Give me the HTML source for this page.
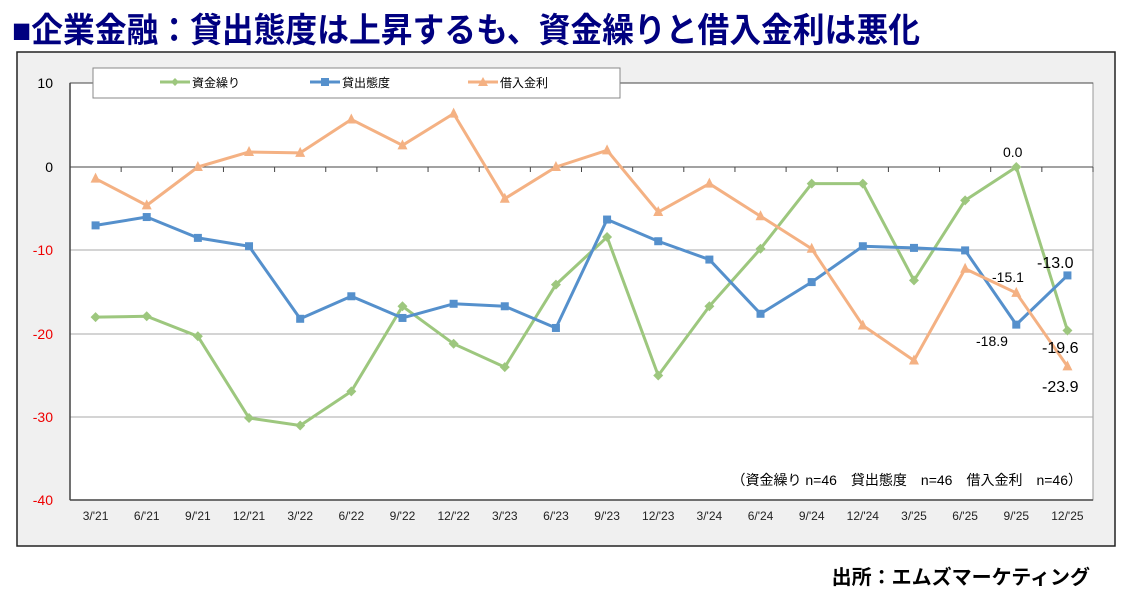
<!DOCTYPE html>
<html><head><meta charset="utf-8"><style>
body{margin:0;background:#fff;width:1141px;height:607px;overflow:hidden;font-family:"Liberation Sans","Noto Sans CJK JP",sans-serif;}
</style></head><body>
<svg width="1141" height="607" style="position:absolute;left:0;top:0" font-family="Liberation Sans, Noto Sans CJK JP, sans-serif">
<text x="12" y="42" font-size="34" font-weight="bold" fill="#000080" textLength="908" lengthAdjust="spacingAndGlyphs">■企業金融：貸出態度は上昇するも、資金繰りと借入金利は悪化</text>
<rect x="17" y="52" width="1098" height="494" fill="#f0f0f0" stroke="#222" stroke-width="1.5"/>
<rect x="70" y="83" width="1023" height="417" fill="#fff" stroke="#999" stroke-width="1"/>
<g stroke="#aaa" stroke-width="1">
<line x1="70" y1="250" x2="1093" y2="250"/><line x1="70" y1="334" x2="1093" y2="334"/><line x1="70" y1="417" x2="1093" y2="417"/>
</g>
<line x1="70" y1="83" x2="1093" y2="83" stroke="#444"/>
<line x1="70" y1="167" x2="1093" y2="167" stroke="#444"/>
<line x1="70" y1="83" x2="70" y2="500" stroke="#444" stroke-width="1.5"/>
<line x1="70" y1="500" x2="1093" y2="500" stroke="#444" stroke-width="1.5"/>
<g id="ticks" stroke="#444"></g>
<g font-size="14" text-anchor="end">
<text x="53" y="88" fill="#000">10</text><text x="53" y="172" fill="#000">0</text>
<text x="53" y="255" fill="#e00">-10</text><text x="53" y="339" fill="#e00">-20</text>
<text x="53" y="422" fill="#e00">-30</text><text x="53" y="505" fill="#e00">-40</text>
</g>
<g id="xl" font-size="12" text-anchor="middle" fill="#222"></g>
<rect x="93" y="68" width="527" height="30" fill="#fff" stroke="#888"/>
<g font-size="12" fill="#000">
<line x1="160" y1="82" x2="190" y2="82" stroke="#9dc77e" stroke-width="3"/><path d="M175 78 L179 82 L175 86 L171 82Z" fill="#9dc77e"/><text x="192" y="87">資金繰り</text>
<line x1="310" y1="82" x2="340" y2="82" stroke="#5590cc" stroke-width="3"/><rect x="321" y="78" width="8" height="8" fill="#5590cc"/><text x="342" y="87">貸出態度</text>
<line x1="468" y1="82" x2="498" y2="82" stroke="#f4b183" stroke-width="3"/><path d="M483 77 L488 86 L478 86Z" fill="#f4b183"/><text x="500" y="87">借入金利</text>
</g>
<g id="series"></g>
<g font-size="14" fill="#000">
<text x="1003" y="157">0.0</text>
<text x="1037" y="268" font-size="16">-13.0</text>
<text x="992" y="282">-15.1</text>
<text x="976" y="346">-18.9</text>
<text x="1042" y="353" font-size="16">-19.6</text>
<text x="1042" y="392" font-size="16">-23.9</text>
</g>
<text x="1082" y="485" font-size="14" text-anchor="end" fill="#000">（資金繰り n=46　貸出態度　n=46　借入金利　n=46）</text>
<text x="1090" y="584" font-size="20" font-weight="bold" text-anchor="end" fill="#000">出所：エムズマーケティング</text>
</svg>
<script>
const ns="http://www.w3.org/2000/svg";
const labels=["3/'21","6/'21","9/'21","12/'21","3/'22","6/'22","9/'22","12/'22","3/'23","6/'23","9/'23","12/'23","3/'24","6/'24","9/'24","12/'24","3/'25","6/'25","9/'25","12/'25"];
const X=i=>70+51.15*(i+0.5), Y=v=>167-v*8.34;
const g=document.getElementById("xl"),t=document.getElementById("ticks");
labels.forEach((l,i)=>{let e=document.createElementNS(ns,"text");e.setAttribute("x",X(i));e.setAttribute("y",520);e.textContent=l;g.appendChild(e);
let k=document.createElementNS(ns,"line");let x=70+51.15*(i+1);k.setAttribute("x1",x);k.setAttribute("x2",x);k.setAttribute("y1",167);k.setAttribute("y2",172);t.appendChild(k);});
const S=[
["#9dc77e","d",[-18.0,-17.9,-20.3,-30.1,-31.0,-26.9,-16.7,-21.2,-24.0,-14.1,-8.4,-25.0,-16.7,-9.8,-2.0,-2.0,-13.6,-4.0,0.0,-19.6]],
["#5590cc","s",[-7.0,-6.0,-8.5,-9.5,-18.2,-15.5,-18.1,-16.4,-16.7,-19.3,-6.3,-8.9,-11.1,-17.6,-13.8,-9.5,-9.7,-10.0,-18.9,-13.0]],
["#f4b183","t",[-1.4,-4.6,0.0,1.8,1.7,5.7,2.6,6.4,-3.8,0.0,2.0,-5.4,-2.0,-5.9,-9.8,-19.0,-23.2,-12.2,-15.1,-23.9]]];
const sg=document.getElementById("series");let h="";
S.forEach(([c,m,d])=>{h+=`<polyline fill="none" stroke="${c}" stroke-width="3" stroke-linejoin="round" points="${d.map((v,i)=>X(i)+","+Y(v)).join(" ")}"/>`;
d.forEach((v,i)=>{const x=X(i),y=Y(v);
if(m=="d")h+=`<path d="M${x} ${y-5}L${x+5} ${y}L${x} ${y+5}L${x-5} ${y}Z" fill="${c}"/>`;
else if(m=="s")h+=`<rect x="${x-4}" y="${y-4}" width="8" height="8" fill="${c}"/>`;
else h+=`<path d="M${x} ${y-6}L${x+5} ${y+4}L${x-5} ${y+4}Z" fill="${c}"/>`;});});
sg.innerHTML=h;
</script>
</body></html>
